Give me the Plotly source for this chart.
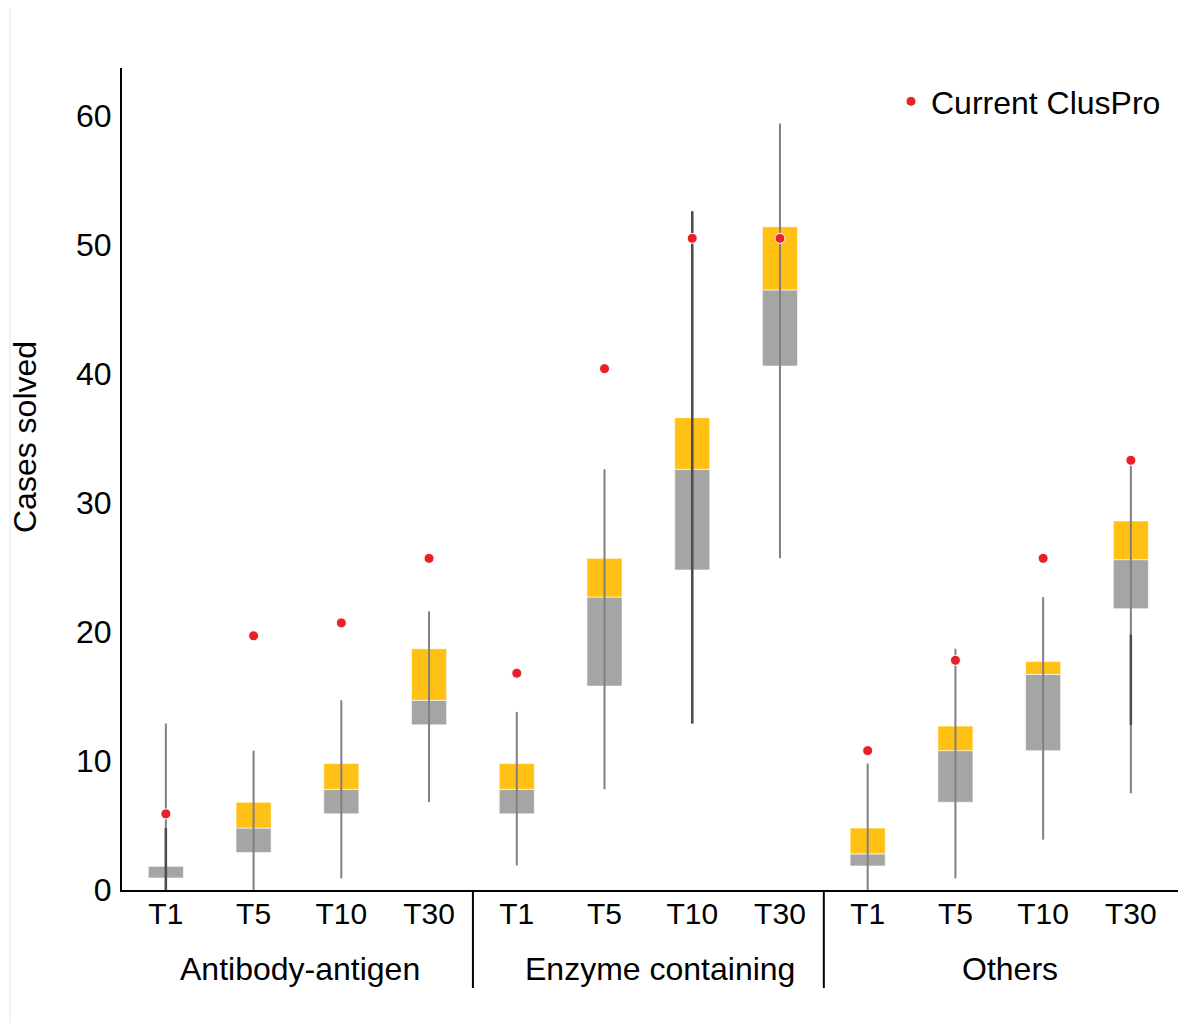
import plotly.graph_objects as go

groups = ["Antibody-antigen", "Enzyme containing", "Others"]
tiers = ["T1", "T5", "T10", "T30"]

# per box, in order AA T1..T30, Enzyme T1..T30, Others T1..T30
q1 = [0.93, 2.9, 5.9, 12.8, 5.9, 15.8, 24.8, 40.6, 1.86, 6.8, 10.8, 21.8]
median = [1.86, 4.8, 7.8, 14.7, 7.8, 22.7, 32.6, 46.5, 2.8, 10.8, 16.7, 25.6]
q3 = [1.86, 6.8, 9.8, 18.7, 9.8, 25.7, 36.6, 51.4, 4.8, 12.7, 17.7, 28.6]
whisker_low = [0, 0, 0.9, 6.8, 1.9, 7.8, 12.9, 25.7, 0, 0.9, 3.9, 7.5]
whisker_high = [12.9, 10.8, 14.7, 21.6, 13.8, 32.6, 52.6, 59.4, 9.8, 18.7, 22.7, 33.3]
# second (darker) whisker segments overlaid on some boxes
alt_low = [0, None, None, None, None, None, 12.9, None, None, None, None, 12.8]
alt_high = [4.8, None, None, None, None, None, 52.6, None, None, None, None, 19.8]
current_cluspro = [5.9, 19.7, 20.7, 25.7, 16.8, 40.4, 50.5, 50.5, 10.8, 17.8, 25.7, 33.3]

labels = [t for g in groups for t in tiers]
xs = list(range(len(labels)))

FONT = "Liberation Sans, Arial, sans-serif"
YELLOW = "#FFC114"
GRAY = "#A5A5A4"

fig = go.Figure()

# regular whiskers
wx, wy = [], []
for i in xs:
    wx += [i, i, None]
    wy += [whisker_low[i], whisker_high[i], None]
fig.add_trace(go.Scatter(x=wx, y=wy, mode="lines", line=dict(color="#808080", width=2),
                         showlegend=False, hoverinfo="skip"))

# boxes: gray lower half, yellow upper half
fig.add_trace(go.Bar(x=xs, y=[m - a for m, a in zip(median, q1)], base=q1, width=0.4,
                     marker=dict(color=GRAY, line=dict(color="rgba(255,255,255,0.6)", width=1)),
                     showlegend=False))
fig.add_trace(go.Bar(x=xs, y=[b - m for b, m in zip(q3, median)], base=median, width=0.4,
                     marker=dict(color=YELLOW, line=dict(color="rgba(255,255,255,0.6)", width=1)),
                     showlegend=False))

# darker whisker segments
ax_, ay_ = [], []
for i in xs:
    if alt_low[i] is not None:
        ax_ += [i, i, None]
        ay_ += [alt_low[i], alt_high[i], None]
fig.add_trace(go.Scatter(x=ax_, y=ay_, mode="lines", line=dict(color="#4d4d4d", width=2.5),
                         showlegend=False, hoverinfo="skip"))

fig.add_trace(go.Scatter(x=xs, y=current_cluspro, mode="markers", name="Current ClusPro",
                         marker=dict(color="#E8202A", size=10, line=dict(color="white", width=1))))

OFF = 8  # page offset of the figure
W, H = 1178, 1015
L, R, T, B = 122 - OFF, 6, 68 - OFF, 133
pw, ph = W - L - R, H - T - B

def px_x(p):  # page pixel -> paper x
    return (p - OFF - L) / pw

def px_y(p):  # page pixel -> paper y
    return (H - B - (p - OFF)) / ph

shapes = []
for sep in [3.5, 7.5]:
    shapes.append(dict(type="line", xref="x", yref="paper", x0=sep, x1=sep,
                       y0=0, y1=px_y(988), line=dict(color="black", width=2)))
shapes.append(dict(type="line", xref="paper", yref="paper",
                   x0=px_x(10), x1=px_x(10), y0=px_y(1023), y1=px_y(8),
                   line=dict(color="#e8e8e8", width=1)))

group_label_px = [300, 660, 1010]
annotations = []
for g, gx in zip(groups, group_label_px):
    annotations.append(dict(text=g, x=px_x(gx), xref="paper", y=px_y(969), yref="paper",
                            showarrow=False, font=dict(family=FONT, size=32, color="black"),
                            xanchor="center", yanchor="middle"))
annotations.append(dict(text="Cases solved", textangle=-90, x=px_x(25), xref="paper",
                        y=px_y(437), yref="paper", showarrow=False,
                        font=dict(family=FONT, size=32, color="black"),
                        xanchor="center", yanchor="middle"))

fig.update_layout(
    width=W, height=H,
    margin=dict(l=L, r=R, t=T, b=B),
    paper_bgcolor="white", plot_bgcolor="white",
    barmode="overlay",
    font=dict(family=FONT, size=30, color="black"),
    shapes=shapes, annotations=annotations,
    legend=dict(x=px_x(891), y=px_y(74), xanchor="left", yanchor="top",
                bgcolor="rgba(0,0,0,0)", font=dict(family=FONT, size=32)),
    xaxis=dict(range=[-0.5, 11.56], tickvals=xs, ticktext=labels, showline=True,
               linecolor="black", linewidth=2, showgrid=False, zeroline=False,
               ticks="", ticklen=0, ticklabelstandoff=-4, tickfont=dict(family=FONT, size=30)),
    yaxis=dict(range=[0, 63.7], tickvals=[0, 10, 20, 30, 40, 50, 60], showline=True,
               linecolor="black", linewidth=2, showgrid=False, zeroline=False,
               ticks="", ticklabelstandoff=2, tickfont=dict(family=FONT, size=32)),
)

fig.write_html("out.html")
